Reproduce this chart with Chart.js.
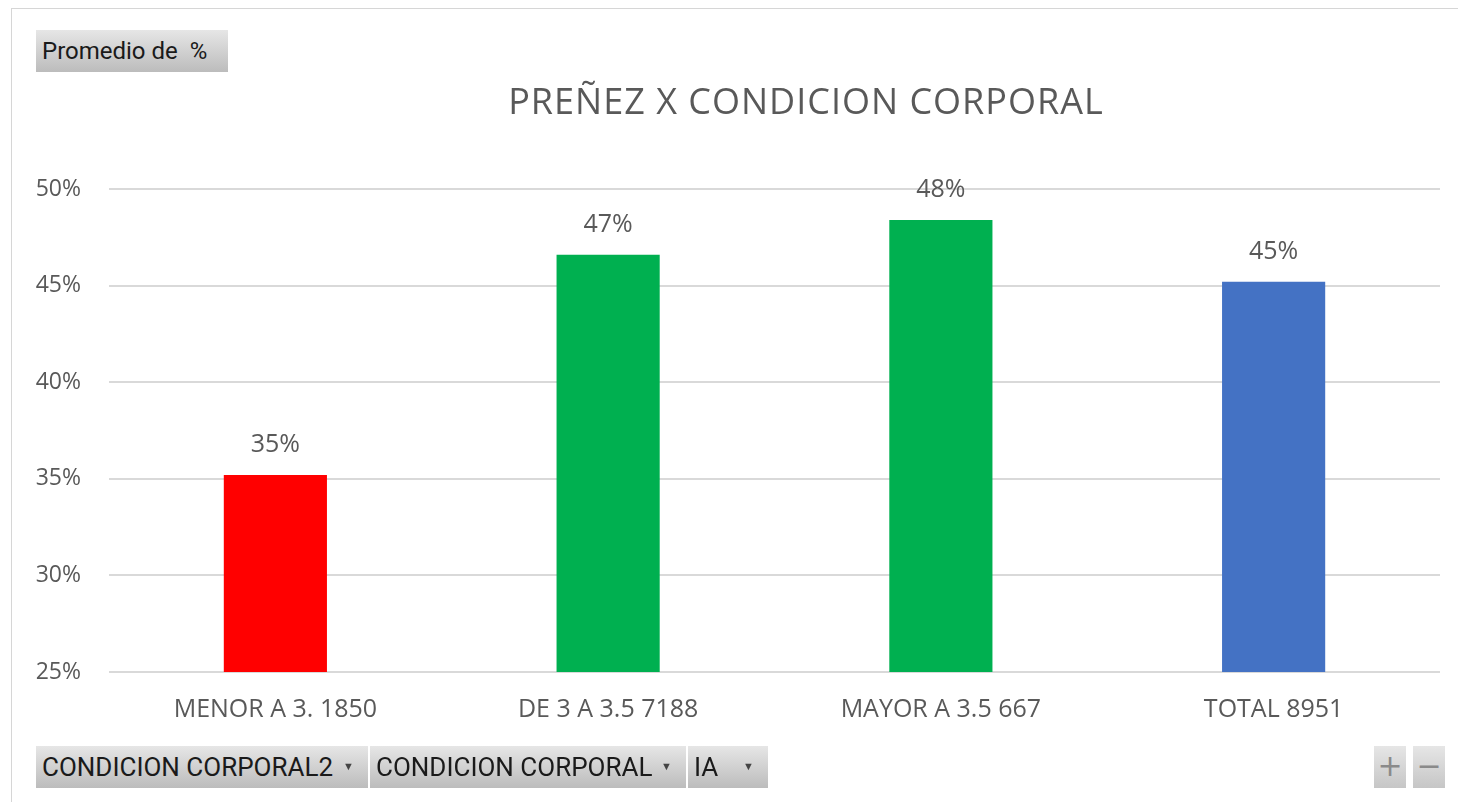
<!DOCTYPE html>
<html>
<head>
<meta charset="utf-8">
<script src="https://cdn.jsdelivr.net/npm/chart.js@4"></script>
<style>
  body { margin: 0; background: #fff; font-family: "Open Sans", sans-serif; }
  #wrap { position: relative; width: 1458px; height: 802px; overflow: hidden; }
  #frame { position: absolute; left: 11px; top: 8px; width: 1460px; height: 820px; border: 1px solid #d6d6d6; }
  canvas { position: absolute; left: 0; top: 0; }
  .title { position: absolute; left: 0; width: 1612px; top: 76px; text-align: center; font-size: 36px; letter-spacing: 1px; color: #595959; }
  .btn { position: absolute; height: 42px; line-height: 42px; color: #1a1a1a; font-size: 26px;
         font-family: "Liberation Sans Narrow", "Roboto", sans-serif;
         background: linear-gradient(#e6e6e6, #bcbcbc); box-sizing: border-box; padding-left: 6px; white-space: nowrap; }
  .arrow { position: absolute; right: 14px; top: 0; font-size: 11px; color: #444; }
  .pm { position: absolute; top: 746px; height: 42px; width: 32px; background: linear-gradient(#e6e6e6, #c6c6c6);
        color: #8a8a8a; font-size: 30px; line-height: 40px; text-align: center; font-family: "DejaVu Sans", sans-serif; }
</style>
</head>
<body>
<div id="wrap">
  <div id="frame"></div>
  <canvas id="chart" width="1458" height="802"></canvas>
  <div class="btn" style="left:36px; top:30px; width:192px; font-size:24px;">Promedio de&nbsp; %</div>
  <div class="title">PREÑEZ X CONDICION CORPORAL</div>
  <div class="btn" style="left:36px; top:746px; width:332px;">CONDICION CORPORAL2 <span class="arrow">&#9660;</span></div>
  <div class="btn" style="left:370px; top:746px; width:316px;">CONDICION CORPORAL <span class="arrow">&#9660;</span></div>
  <div class="btn" style="left:688px; top:746px; width:80px;">IA <span class="arrow">&#9660;</span></div>
  <div class="pm" style="left:1374px;">+</div>
  <div class="pm" style="left:1413px;">&minus;</div>
</div>
<script>
// datos
const categorias = ['MENOR A 3. 1850', 'DE 3 A 3.5 7188', 'MAYOR A 3.5 667', 'TOTAL 8951'];
const promedios = [35.2, 46.6, 48.4, 45.2];
const colores = ['#ff0000', '#00b050', '#00b050', '#4472c4'];
const ticksY = [25, 30, 35, 40, 45, 50];

const labelColor = '#595959';
const fontFam = '"Open Sans", sans-serif';

// etiquetas encima de las barras
const etiquetas = {
    id: 'etiquetas',
    afterDatasetsDraw(chart) {
        const ctx = chart.ctx;
        const meta = chart.getDatasetMeta(0);
        ctx.save();
        ctx.font = '25px ' + fontFam;
        ctx.fillStyle = labelColor;
        ctx.textAlign = 'center';
        ctx.textBaseline = 'middle';
        meta.data.forEach((bar, i) => {
            ctx.fillText(Math.round(promedios[i]) + '%', bar.x, bar.y - 30);
        });
        ctx.restore();
    }
};

const ctx = document.getElementById('chart').getContext('2d');
new Chart(ctx, {
    type: 'bar',
    data: {
        labels: categorias,
        datasets: [{
            data: promedios,
            backgroundColor: colores,
            barPercentage: 0.31,
            categoryPercentage: 1
        }]
    },
    options: {
        responsive: false,
        animation: false,
        layout: { padding: { top: 189, right: 18, left: 0, bottom: 0 } },
        plugins: {
            legend: { display: false },
            tooltip: { enabled: false }
        },
        scales: {
            x: {
                grid: { display: false, drawTicks: false },
                border: { display: false },
                ticks: { color: labelColor, font: { size: 25, family: fontFam }, padding: 23, maxRotation: 0 },
                afterFit(scale) { scale.height = 130; }
            },
            y: {
                min: ticksY[0],
                max: ticksY[ticksY.length - 1],
                afterBuildTicks(scale) { scale.ticks = ticksY.map(v => ({ value: v })); },
                grid: { color: '#d9d9d9', lineWidth: 2, drawTicks: false },
                border: { display: false },
                ticks: {
                    color: labelColor,
                    font: { size: 23, family: fontFam },
                    padding: 28,
                    callback: v => v + '%'
                },
                afterFit(scale) { scale.width = 109; }
            }
        }
    },
    plugins: [etiquetas]
});
</script>
</body>
</html>
